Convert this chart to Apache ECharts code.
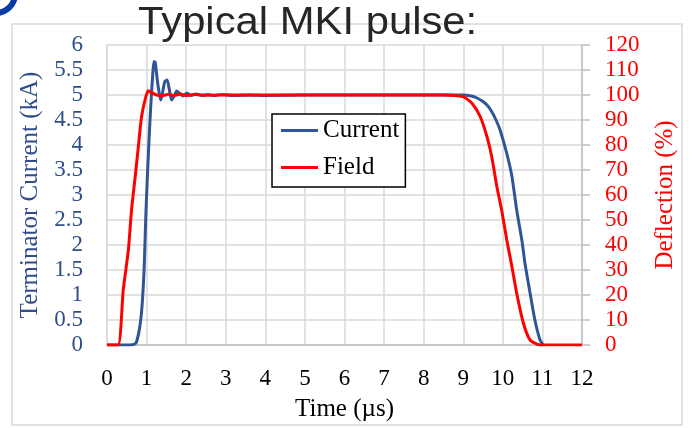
<!DOCTYPE html>
<html>
<head>
<meta charset="utf-8">
<script src="https://cdn.jsdelivr.net/npm/echarts@6/dist/echarts.min.js"></script>
<style>
  html, body { margin: 0; padding: 0; background: #fff; }
  #chart { width: 692px; height: 428px; }
</style>
</head>
<body>
<div id="chart"></div>
<script>
// Terminator current of the MKI kicker (kA) against time (µs)
const currentTime = [0, 0.58, 0.70, 0.75, 0.83, 0.89, 0.94, 0.98, 1.02, 1.07, 1.10, 1.14, 1.19, 1.22, 1.27, 1.32, 1.36, 1.40, 1.46, 1.52, 1.57, 1.63, 1.69, 1.76, 1.84, 1.92, 2.02, 2.12, 2.25, 2.40, 2.55, 2.70, 2.90, 3.20, 3.60, 4.00, 5.00, 6.00, 7.00, 8.00, 9.00, 9.20, 9.35, 9.48, 9.60, 9.71, 9.81, 9.93, 10.10, 10.23, 10.35, 10.48, 10.56, 10.69, 10.81, 10.94, 11.02];
const currentKA   = [0, 0, 0.02, 0.07, 0.37, 0.83, 1.57, 2.57, 3.37, 4.23, 4.70, 5.23, 5.67, 5.65, 5.30, 5.03, 4.90, 5.03, 5.27, 5.30, 5.13, 4.90, 4.97, 5.08, 5.03, 4.98, 5.04, 4.99, 5.02, 4.99, 5.01, 4.99, 5.01, 4.99, 5.00, 4.99, 5.00, 5.00, 5.00, 5.00, 5.00, 4.98, 4.94, 4.88, 4.80, 4.68, 4.53, 4.30, 3.83, 3.37, 2.70, 2.10, 1.63, 1.03, 0.50, 0.10, 0];

// Magnetic field as deflection (%) against time (µs)
const fieldTime = [0, 0.28, 0.41, 0.54, 0.62, 0.71, 0.79, 0.87, 0.96, 1.04, 1.12, 1.25, 1.40, 1.55, 1.70, 1.85, 2.00, 2.20, 2.50, 3.00, 4.00, 5.00, 6.00, 7.00, 8.00, 8.50, 9.00, 9.22, 9.43, 9.60, 9.72, 9.85, 9.97, 10.10, 10.23, 10.35, 10.52, 10.69, 10.94, 12.00];
const fieldPct  = [0, 0, 22, 38, 54, 67, 79, 91, 98, 101.7, 101, 100, 99.7, 100.3, 99.8, 100.4, 99.8, 100.2, 99.9, 100, 100, 100, 100, 100, 100, 100, 99.3, 96.7, 91.3, 83.3, 75.3, 63.3, 54, 42, 31.3, 20.7, 8.7, 2, 0, 0];

const seriesNames = ['Current', 'Field'];
const titleText = 'Typical MKI pulse:';

const serif = '"Liberation Serif", "Times New Roman", serif';
const blue = '#2F5597';
const blueText = '#2F4D8A';
const red = '#FF0000';
const gridGray = '#D9D9D9';

const pairs = (xs, ys) => xs.map((x, i) => [x, ys[i]]);

const chart = echarts.init(document.getElementById('chart'), null, { renderer: 'canvas' });

chart.setOption({
  animation: false,
  backgroundColor: '#fff',
  graphic: [
    {
      type: 'rect',
      z: -10,
      shape: { x: 12, y: 24, width: 670, height: 401 },
      style: { fill: 'none', stroke: gridGray, lineWidth: 1.5 }
    },
    {
      type: 'ring',
      shape: { cx: -4, cy: -6, r: 22, r0: 16 },
      style: { fill: '#0B3AA8' }
    },
    {
      type: 'text',
      x: 138,
      y: 24,
      scaleX: 1.1,
      z: 100,
      style: {
        text: titleText,
        font: '38px "Liberation Sans", Arial, sans-serif',
        fill: '#262626',
        textAlign: 'left',
        textVerticalAlign: 'middle',
        align: 'left',
        verticalAlign: 'middle'
      }
    }
  ],
  grid: { left: 107, right: 110, top: 45, bottom: 83, containLabel: false },
  legend: {
    data: seriesNames,
    orient: 'vertical',
    left: 272,
    top: 114,
    icon: 'rect',
    itemWidth: 37,
    itemHeight: 3,
    itemGap: 12,
    padding: [4, 6, 7, 9],
    borderColor: '#000',
    borderWidth: 1.5,
    backgroundColor: '#fff',
    textStyle: { fontFamily: serif, fontSize: 25, color: '#000' }
  },
  xAxis: {
    type: 'value',
    min: 0,
    max: 12,
    interval: 1,
    name: 'Time (µs)',
    nameLocation: 'middle',
    nameGap: 52,
    nameTextStyle: { fontFamily: serif, fontSize: 25, color: '#000' },
    axisLine: { show: true, lineStyle: { color: '#BFBFBF', width: 1.5 } },
    axisTick: { show: false },
    axisLabel: { margin: 22, fontFamily: serif, fontSize: 23, color: '#000' },
    splitLine: { show: true, lineStyle: { color: gridGray, width: 1.5 } }
  },
  yAxis: [
    {
      type: 'value',
      position: 'left',
      min: 0,
      max: 6,
      interval: 0.5,
      name: 'Terminator Current (kA)',
      nameLocation: 'middle',
      nameRotate: 90,
      nameGap: 62,
      nameTextStyle: { fontFamily: serif, fontSize: 25, color: blueText },
      axisLine: { show: true, lineStyle: { color: gridGray, width: 1.5 } },
      axisTick: { show: false },
      axisLabel: { margin: 24, fontFamily: serif, fontSize: 23, color: blueText },
      splitLine: { show: true, lineStyle: { color: gridGray, width: 1.5 } }
    },
    {
      type: 'value',
      position: 'right',
      min: 0,
      max: 120,
      interval: 10,
      name: 'Deflection (%)',
      nameLocation: 'middle',
      nameRotate: 90,
      nameGap: 71,
      nameTextStyle: { fontFamily: serif, fontSize: 25, color: red },
      axisLine: { show: true, lineStyle: { color: '#BFBFBF', width: 1.5 } },
      axisTick: { show: true, inside: false, length: 8, lineStyle: { color: '#BFBFBF', width: 1.5 } },
      axisLabel: { margin: 23, fontFamily: serif, fontSize: 23, color: red },
      splitLine: { show: false }
    }
  ],
  series: [
    {
      name: seriesNames[0],
      type: 'line',
      yAxisIndex: 0,
      data: pairs(currentTime, currentKA),
      showSymbol: false,
      symbol: 'none',
      smooth: 0.2,
      color: blue,
      lineStyle: { color: blue, width: 3 },
      z: 2
    },
    {
      name: seriesNames[1],
      type: 'line',
      yAxisIndex: 1,
      data: pairs(fieldTime, fieldPct),
      showSymbol: false,
      symbol: 'none',
      smooth: 0.2,
      color: red,
      lineStyle: { color: red, width: 3 },
      z: 3
    }
  ]
});
</script>
</body>
</html>
